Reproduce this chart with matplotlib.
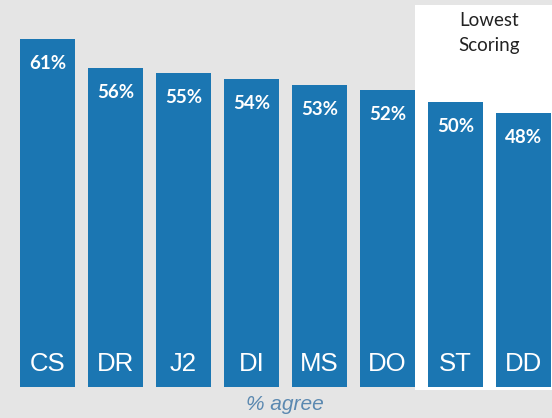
import matplotlib
matplotlib.use("Agg")
import matplotlib.pyplot as plt
from matplotlib.patches import Rectangle

categories = ["CS", "DR", "J2", "DI", "MS", "DO", "ST", "DD"]
agree_pct = [61, 56, 55, 54, 53, 52, 50, 48]
pct_labels = ["61%", "56%", "55%", "54%", "53%", "52%", "50%", "48%"]

W, H = 552, 418
bg = "#e5e5e5"
bar_color = "#1b76b2"

fig = plt.figure(figsize=(W / 100, H / 100), dpi=100)
fig.patch.set_facecolor(bg)

# white panel marking the lowest scoring group, sits behind the bars
fig.patches.append(Rectangle((415 / W, (H - 390) / H), 1 - 415 / W, (390 - 5) / H,
                             transform=fig.transFigure, facecolor="white",
                             edgecolor="none", zorder=0))

ax = fig.add_axes([0, (H - 387) / H, 1, 387 / H])
ax.set_zorder(2)
ax.patch.set_alpha(0)
x = list(range(len(categories)))
ax.bar(x, agree_pct, width=55 / 68, color=bar_color, zorder=2)
ax.set_xlim(-47.5 / 68, 7 + 28.5 / 68)
ax.set_ylim(0, 61 * 387 / 348)
ax.axis("off")

for xi, v, lab, cat in zip(x, agree_pct, pct_labels, categories):
    ax.text(xi, v - 4.3, lab, ha="center", va="center", color="white",
            fontsize=13.5, fontweight="bold", family="Lato", zorder=3)
    ax.text(xi, 4.0, cat, ha="center", va="center", color="white",
            fontsize=18.5, family="Liberation Sans", zorder=3)

fig.text(489 / W, 1 - 21 / H, "Lowest", ha="center", va="center",
         fontsize=13.5, family="Lato", color="#222222")
fig.text(489 / W, 1 - 46 / H, "Scoring", ha="center", va="center",
         fontsize=13.5, family="Lato", color="#222222")

fig.text(285 / W, 1 - 405 / H, "% agree", ha="center", va="center",
         fontsize=15, style="italic", family="Liberation Sans", color="#5a88b0")

fig.savefig("out.png", dpi=100, facecolor=bg)
